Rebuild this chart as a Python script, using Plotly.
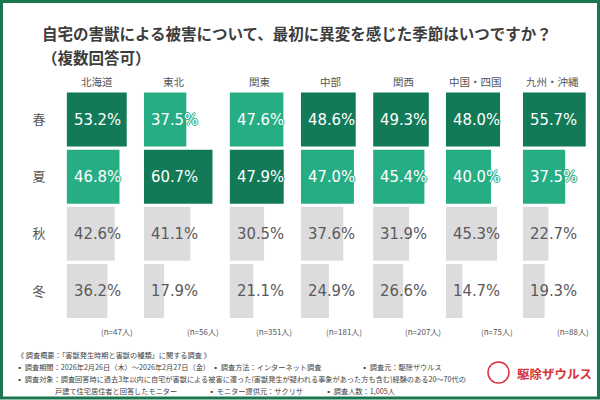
import plotly.graph_objects as go

# data
regions = ["北海道", "東北", "関東", "中部", "関西", "中国・四国", "九州・沖縄"]
seasons = ["春", "夏", "秋", "冬"]
spring = [53.2, 37.5, 47.6, 48.6, 49.3, 48.0, 55.7]
summer = [46.8, 60.7, 47.9, 47.0, 45.4, 40.0, 37.5]
autumn = [42.6, 41.1, 30.5, 37.6, 31.9, 45.3, 22.7]
winter = [36.2, 17.9, 21.1, 24.9, 26.6, 14.7, 19.3]
n_resp = [47, 56, 351, 181, 207, 75, 88]

title_text = "自宅の害獣による被害について、最初に異変を感じた季節はいつですか？"
subtitle_text = "（複数回答可）"

DARK = "#137a57"
MID = "#27ad84"
GREY = "#dcdcde"
TXT = "#555555"
BORDER = "#1b7750"
RED = "#d8323a"

W, H = 600, 400
col_left = [66.6, 143.9, 229.6, 300.8, 373.1, 445.8, 522.8]  # px, bar start of each column
n_right = [135, 221, 294, 364, 443, 515, 591]                 # px, right end of (n=..) labels
px_per_pct = 1.13
x_max = 65


def px(x):
    return x / W


def py(y):
    return 1 - y / H


fig = go.Figure()
layout = dict()

for i, reg in enumerate(regions):
    vals = [spring[i], summer[i], autumn[i], winter[i]]
    top = max(spring[i], summer[i])
    cols = [DARK if v == top else MID for v in vals[:2]] + [GREY, GREY]
    xa = "x" if i == 0 else f"x{i + 1}"
    fig.add_trace(go.Bar(
        x=vals, y=seasons, orientation="h",
        marker=dict(color=cols, line=dict(width=0)),
        xaxis=xa, yaxis="y", showlegend=False, hoverinfo="skip",
    ))
    key = "xaxis" if i == 0 else f"xaxis{i + 1}"
    layout[key] = dict(
        domain=[px(col_left[i]), px(col_left[i] + x_max * px_per_pct)],
        range=[0, x_max], visible=False, anchor="y", fixedrange=True,
    )
    # value labels (white text gets an outline in the bar colour so it
    # stays readable where it runs past the bar end)
    for s, v, c in zip(seasons, vals, cols):
        if c == GREY:
            f = dict(color="#5a5a5a")
        else:
            f = dict(color="white",
                     shadow=f"1px 0 0 {c}, -1px 0 0 {c}, 0 1px 0 {c}, 0 -1px 0 {c}")
        fig.add_annotation(
            x=0, y=s, xref=xa, yref="y", text=f"{v:.1f}%",
            xanchor="left", yanchor="middle", xshift=5, showarrow=False,
            font=dict(family="DejaVu Sans Condensed, sans-serif", size=16.5, **f),
        )
    # column header
    fig.add_annotation(
        x=px(col_left[i] + 30), y=py(81), xref="paper", yref="paper",
        text=reg, showarrow=False, xanchor="center", yanchor="middle",
        font=dict(family="Noto Sans CJK JP", size=10.5, color=TXT),
    )
    # sample size
    fig.add_annotation(
        x=px(n_right[i]), y=py(331), xref="paper", yref="paper",
        text=f"(n={n_resp[i]}人)", showarrow=False, xanchor="right", yanchor="middle",
        font=dict(family="Noto Sans CJK JP", size=8, color=TXT),
    )

layout["yaxis"] = dict(
    domain=[py(319.5), py(91)], anchor="x", type="category",
    categoryorder="array", categoryarray=seasons, autorange="reversed",
    showgrid=False, zeroline=False, ticks="", showline=False,
    ticklabelstandoff=20, fixedrange=True,
    tickfont=dict(family="Noto Sans CJK JP", size=13, color=TXT),
)

fig.update_layout(
    width=W, height=H,
    margin=dict(l=0, r=0, t=0, b=0),
    paper_bgcolor="white", plot_bgcolor="white",
    bargap=0.055,
    **layout,
)

# title
fig.add_annotation(x=px(40), y=py(33), xref="paper", yref="paper", text=f"<b>{title_text}</b>",
                   showarrow=False, xanchor="left", yanchor="middle",
                   font=dict(family="Noto Sans CJK JP", size=15.5, color="#3d3d3d"))
fig.add_annotation(x=px(40), y=py(57), xref="paper", yref="paper", text=f"<b>{subtitle_text}</b>",
                   showarrow=False, xanchor="left", yanchor="middle",
                   font=dict(family="Noto Sans CJK JP", size=15.5, color="#3d3d3d"))

# footer notes
foot = [
    (15, 355, "《 調査概要：「害獣発生時期と害獣の種類」に関する調査 》"),
    (14, 367, "▪ 調査期間：2026年2月26日（木）～2026年2月27日（金）"),
    (210, 367, "▪ 調査方法：インターネット調査"),
    (359, 367, "▪ 調査元：駆除ザウルス"),
    (14, 378.5, "▪ 調査対象：調査回答時に過去3年以内に自宅が害獣による被害に遭った(害獣発生が疑われる事象があった方も含む)経験のある20～70代の"),
    (53, 391, "戸建て住宅居住者と回答したモニター"),
    (206, 391, "▪ モニター提供元：サクリサ"),
    (323, 391, "▪ 調査人数：1,005人"),
]
for fx, fy, t in foot:
    fig.add_annotation(x=px(fx), y=py(fy), xref="paper", yref="paper", text=t,
                       showarrow=False, xanchor="left", yanchor="middle",
                       font=dict(family="Noto Sans CJK JP", size=7.2, color="#444444"))

# logo
fig.add_shape(type="circle", xref="paper", yref="paper",
              x0=px(488), x1=px(509), y0=py(383), y1=py(362),
              line=dict(color=RED, width=1.5))
fig.add_annotation(x=px(515), y=py(373), xref="paper", yref="paper", text="<b>駆除ザウルス</b>",
                   showarrow=False, xanchor="left", yanchor="middle",
                   font=dict(family="Noto Sans CJK JP", size=12.5, color=RED))

# green frame
fig.add_shape(type="rect", xref="paper", yref="paper",
              x0=px(1.5), x1=px(598.5), y0=py(398), y1=py(1.5),
              line=dict(color=BORDER, width=3))

# the page's default body margin would push the figure off the window
fig.write_html("out.html", config={"displayModeBar": False},
               post_script="document.body.style.margin='0';")
